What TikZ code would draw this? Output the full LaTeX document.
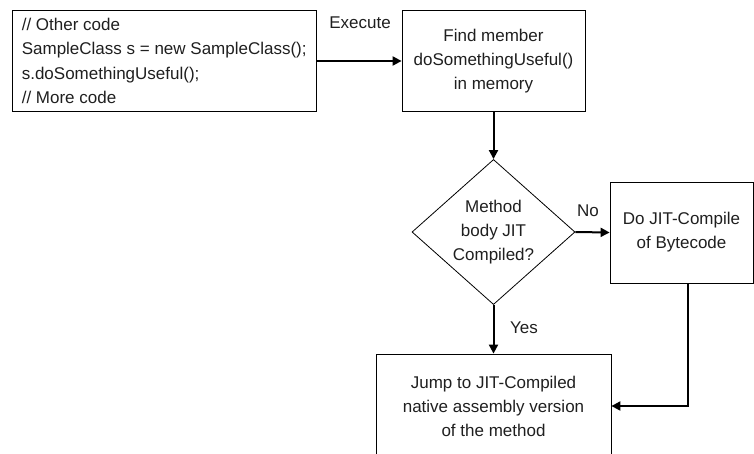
\documentclass[tikz,border=0pt]{standalone}
\usepackage{fontspec}
\setmainfont{Liberation Sans}
\usetikzlibrary{arrows.meta,shapes.geometric}

\begin{document}
\begin{tikzpicture}[x=1pt,y=-1pt,
	every node/.style={font=\fontsize{17}{24}\selectfont, text=black!88},
	blk/.style={draw, line width=0.8pt, inner sep=0pt, align=center},
	flow/.style={line width=2pt, -{Triangle[length=9pt,width=9pt]}}]
	\useasboundingbox (0,0) rectangle (754,453);
	\clip (0,0) rectangle (754,453);
	% boxes
	\node[blk, minimum width=304, minimum height=101] (code) at (164,61) {};
	\node[anchor=west, align=left, inner sep=0pt, font=\fontsize{17}{24.5}\selectfont] (codetxt) at ([xshift=10]code.west) {// Other code\\SampleClass s = new SampleClass();\\s.doSomethingUseful();\\// More code};
	\node[blk, minimum width=183, minimum height=101] (findmem) at (493.5,61) {Find member\\doSomethingUseful()\\in memory};
	\node[blk, diamond, minimum width=163, minimum height=140] (jitq) at (493.5,232) {Method\\body JIT\\Compiled?};
	\node[blk, minimum width=143, minimum height=101] (compile) at (681.5,232.5) {Do JIT-Compile\\of Bytecode};
	\node[blk, minimum width=235, minimum height=104] (jump) at (493.5,406) {Jump to JIT-Compiled\\native assembly version\\of the method};
	% labels
	\node (execlbl) at (360,23) {Execute};
	\node (nolbl) at (588,211) {No};
	\node (yeslbl) at (524,328) {Yes};
	% arrows
	\draw[flow] (code.east) -- (findmem.west);
	\draw[flow] (findmem.south) -- (jitq.north);
	\draw[flow] (jitq.east) -- (compile.west);
	\draw[flow] (jitq.south) -- (jump.north);
	\draw[flow] ([xshift=6.5]compile.south) |- (jump.east);
\end{tikzpicture}
\end{document}
